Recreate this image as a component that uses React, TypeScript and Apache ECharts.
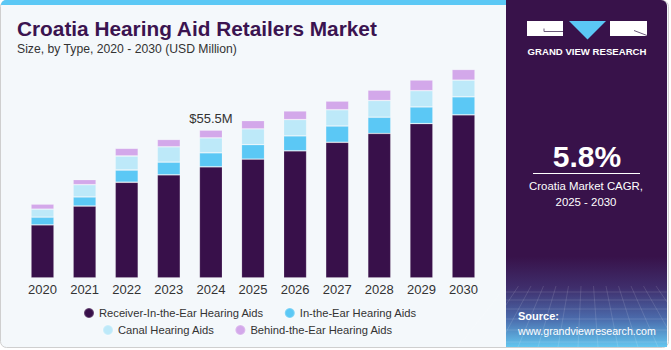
import React, { useEffect, useRef } from "react";
import * as echarts from "echarts";

const years = ["2020", "2021", "2022", "2023", "2024", "2025", "2026", "2027", "2028", "2029", "2030"];
const receiverInEar = [19.9, 27.0, 35.9, 38.7, 41.7, 44.6, 47.7, 50.9, 54.2, 57.9, 61.2];
const inTheEar = [2.9, 3.4, 4.6, 4.75, 5.25, 5.4, 5.6, 6.1, 6.1, 6.25, 6.75];
const canal = [3.0, 4.6, 5.25, 5.75, 5.6, 5.9, 6.1, 6.1, 6.25, 6.1, 6.25];
const behindEar = [1.9, 1.9, 2.9, 2.75, 2.9, 3.1, 3.25, 3.25, 3.9, 4.0, 4.0];
const seriesNames = [
  "Receiver-In-the-Ear Hearing Aids",
  "In-the-Ear Hearing Aids",
  "Canal Hearing Aids",
  "Behind-the-Ear Hearing Aids",
];
const colors = ["#38104A", "#5BC8F5", "#BDE9F9", "#D3A8EA"];
const annotatedIndex = 4;
const annotation = "$55.5M";

const FONT = "'Liberation Sans', Arial, sans-serif";

export default function App() {
  const ref = useRef<HTMLDivElement>(null);
  useEffect(() => {
    if (!ref.current) return;
    const chart = echarts.init(ref.current, undefined, { renderer: "svg" });

    const gridLines: any[] = [];
    const hy = [292, 300, 309, 319, 330, 342];
    hy.forEach((y) => {
      gridLines.push({
        type: "line",
        shape: { x1: 506, y1: y, x2: 667, y2: y },
        style: { stroke: "rgba(255,255,255,0.13)", lineWidth: 1 },
        silent: true,
      });
    });
    for (let i = 0; i < 14; i++) {
      const xt = 506 + i * 12.5;
      const xb = 586 + (xt - 586) * 1.6;
      gridLines.push({
        type: "line",
        shape: { x1: xt, y1: 286, x2: xb, y2: 347 },
        style: { stroke: "rgba(255,255,255,0.12)", lineWidth: 1 },
        silent: true,
      });
    }

    const makeSeries = (name: string, data: number[], idx: number) => ({
      name,
      type: "bar",
      stack: "total",
      barWidth: 23,
      data: data.map((v, i) =>
        idx === 3 && i === annotatedIndex
          ? {
              value: v,
              label: {
                show: true,
                position: "top",
                distance: 5,
                formatter: annotation,
                fontSize: 13,
                color: "#333333",
                fontFamily: FONT,
              },
            }
          : v
      ),
      itemStyle: {
        color: colors[idx],
        borderColor: "rgba(255,255,255,0.22)",
        borderWidth: 0.8,
      },
      emphasis: { disabled: true },
    });

    const legendCommon = {
      icon: "circle",
      itemWidth: 10,
      itemHeight: 10,
      itemGap: 20,
      padding: 0,
      textStyle: { fontSize: 11.2, color: "#333333", fontFamily: FONT },
      selectedMode: false,
    };

    chart.setOption({
      animation: false,
      backgroundColor: "#ffffff",
      grid: { left: 21.45, right: 671 - 484.55, top: 64.67, bottom: 72, containLabel: false },
      xAxis: {
        type: "category",
        data: years,
        axisLine: { show: false },
        axisTick: { show: false },
        axisLabel: { fontSize: 13, color: "#333333", margin: 5, fontFamily: FONT },
      },
      yAxis: {
        type: "value",
        min: 0,
        max: 80,
        show: false,
        splitLine: { show: false },
      },
      legend: [
        { ...legendCommon, data: [seriesNames[0], seriesNames[1]], left: 83, top: 307 },
        { ...legendCommon, data: [seriesNames[2], seriesNames[3]], left: 102, top: 324 },
      ],
      graphic: [
        {
          type: "rect",
          shape: { x: 0.5, y: 0.5, width: 668, height: 347, r: 6 },
          style: { fill: "#F4F8FB", stroke: "#CFCFCF", lineWidth: 1 },
          silent: true,
          z: -10,
        },
        {
          type: "rect",
          shape: { x: 1, y: 0, width: 505, height: 5, r: [5, 0, 0, 0] },
          style: { fill: "#5BC8F5" },
          silent: true,
          z: -9,
        },
        {
          type: "rect",
          shape: { x: 506, y: 0, width: 161, height: 347, r: [0, 6, 0, 0] },
          style: {
            fill: new echarts.graphic.LinearGradient(0, 0, 0, 1, [
              { offset: 0, color: "#38124A" },
              { offset: 0.74, color: "#38124A" },
              { offset: 0.83, color: "#3F2E6C" },
              { offset: 0.92, color: "#4B6CAD" },
              { offset: 1, color: "#63C6EF" },
            ]),
          },
          silent: true,
          z: -9,
        },
        ...gridLines.map((g) => ({ ...g, z: -8 })),
        {
          type: "rect",
          shape: { x: 527, y: 21, width: 36, height: 15 },
          style: { fill: "#ffffff" },
          z: -7,
        },
        {
          type: "polyline",
          shape: { points: [[544, 28.5], [544, 31.5], [563, 31.5]] },
          style: { stroke: "#6B5A7A", lineWidth: 1, fill: null },
          z: -6,
        },
        {
          type: "polygon",
          shape: { points: [[569, 21], [606, 21], [587.5, 39.5]] },
          style: { fill: "#5BC8F5" },
          z: -7,
        },
        {
          type: "rect",
          shape: { x: 610, y: 21, width: 37, height: 15 },
          style: { fill: "#ffffff" },
          z: -7,
        },
        {
          type: "polyline",
          shape: { points: [[634, 30.5], [647, 35.5]] },
          style: { stroke: "#6B5A7A", lineWidth: 1, fill: null },
          z: -6,
        },
        {
          type: "text",
          style: {
            x: 587,
            y: 51.5,
            text: "GRAND VIEW RESEARCH",
            fill: "#ffffff",
            font: `bold 9.6px ${FONT}`,
            align: "center",
            verticalAlign: "middle",
          },
          z: -6,
        },
        {
          type: "text",
          style: {
            x: 587,
            y: 156,
            text: "5.8%",
            fill: "#ffffff",
            font: `bold 30px ${FONT}`,
            align: "center",
            verticalAlign: "middle",
          },
          z: -6,
        },
        {
          type: "line",
          shape: { x1: 533, y1: 173.5, x2: 640, y2: 173.5 },
          style: { stroke: "#ffffff", lineWidth: 1 },
          z: -6,
        },
        {
          type: "text",
          style: {
            x: 586,
            y: 186,
            text: "Croatia Market CAGR,",
            fill: "#ffffff",
            font: `11.4px ${FONT}`,
            align: "center",
            verticalAlign: "middle",
          },
          z: -6,
        },
        {
          type: "text",
          style: {
            x: 586,
            y: 201.5,
            text: "2025 - 2030",
            fill: "#ffffff",
            font: `11.4px ${FONT}`,
            align: "center",
            verticalAlign: "middle",
          },
          z: -6,
        },
        {
          type: "text",
          style: {
            x: 518,
            y: 316,
            text: "Source:",
            fill: "#ffffff",
            font: `bold 11px ${FONT}`,
            align: "left",
            verticalAlign: "middle",
          },
          z: -6,
        },
        {
          type: "text",
          style: {
            x: 518,
            y: 330.5,
            text: "www.grandviewresearch.com",
            fill: "#ffffff",
            font: `10.6px ${FONT}`,
            align: "left",
            verticalAlign: "middle",
          },
          z: -6,
        },
        {
          type: "text",
          style: {
            x: 17,
            y: 28.5,
            text: "Croatia Hearing Aid Retailers Market",
            fill: "#3B1450",
            font: `bold 20.8px ${FONT}`,
            align: "left",
            verticalAlign: "middle",
          },
          z: -6,
        },
        {
          type: "text",
          style: {
            x: 17,
            y: 48.5,
            text: "Size, by Type, 2020 - 2030 (USD Million)",
            fill: "#333333",
            font: `12.2px ${FONT}`,
            align: "left",
            verticalAlign: "middle",
          },
          z: -6,
        },
      ],
      series: [
        makeSeries(seriesNames[0], receiverInEar, 0),
        makeSeries(seriesNames[1], inTheEar, 1),
        makeSeries(seriesNames[2], canal, 2),
        makeSeries(seriesNames[3], behindEar, 3),
      ],
    });
    return () => chart.dispose();
  }, []);
  return (
    <div
      ref={ref}
      style={{ position: "fixed", left: 0, top: 0, width: 671, height: 350 }}
    />
  );
}
